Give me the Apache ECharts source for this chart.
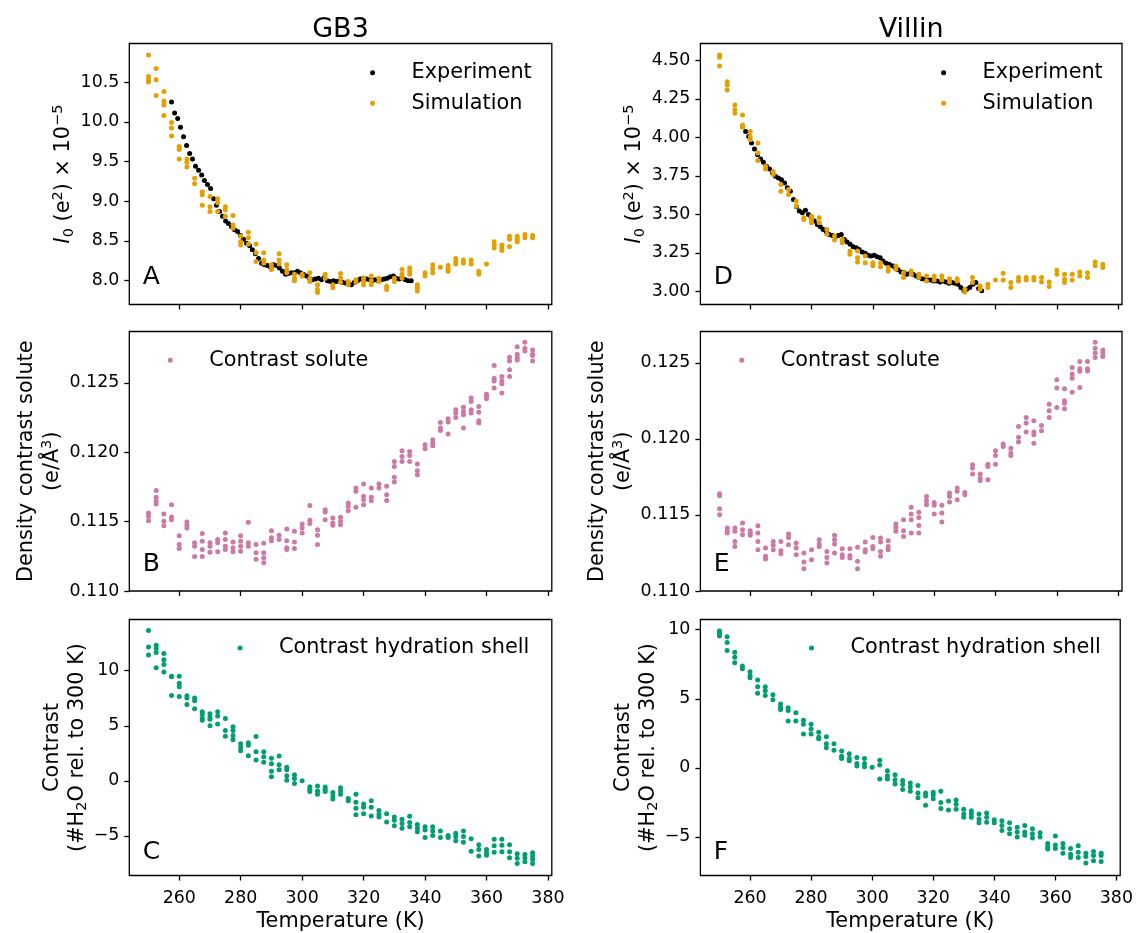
<!DOCTYPE html>
<html><head><meta charset="utf-8">
<script src="https://cdn.jsdelivr.net/npm/echarts@6/dist/echarts.min.js"></script>
<style>html,body{margin:0;padding:0;background:#fff}#c{width:1136px;height:933px}</style>
</head><body><div id="c"></div><script>
// ---------- data ----------
const simT = [250,252.5,255,257.5,260,262.5,265,267.5,270,272.5,275,277.5,280,282.5,285,287.5,290,292.5,295,297.5,300,302.5,305,307.5,310,312.5,315,317.5,320,322.5,325,327.5,330,332.5,335,337.5,340,342.5,345,347.5,350,352.5,355,357.5,360,362.5,365,367.5,370,372.5,375];
const expT = [257.5,258.5,259.5,260.4,261.4,262.4,263.4,264.3,265.3,266.3,267.3,268.2,269.2,270.2,271.2,272.1,273.1,274.1,275.1,276.0,277.0,278.0,279.0,279.9,280.9,281.9,282.9,283.8,284.8,285.8,286.8,287.7,288.7,289.7,290.7,291.6,292.6,293.6,294.6,295.5,296.5,297.5,298.5,299.4,300.4,301.4,302.4,303.3,304.3,305.3,306.3,307.2,308.2,309.2,310.2,311.1,312.1,313.1,314.1,315.0,316.0,317.0,318.0,318.9,319.9,320.9,321.9,322.8,323.8,324.8,325.8,326.7,327.7,328.7,329.7,330.6,331.6,332.6,333.6,334.5,335.5];

const gb3ExpI0 = [10.25,10.11,10.04,9.93,9.81,9.70,9.60,9.53,9.44,9.39,9.33,9.26,9.21,9.16,9.03,8.95,8.87,8.81,8.75,8.72,8.68,8.64,8.62,8.57,8.52,8.47,8.44,8.39,8.34,8.28,8.22,8.20,8.19,8.17,8.20,8.19,8.16,8.12,8.08,8.09,8.10,8.10,8.12,8.10,8.08,8.06,8.03,8.01,8.02,8.03,8.01,8.04,8.00,7.99,8.00,7.99,8.00,7.98,7.97,7.96,7.95,7.98,8.00,8.02,8.03,8.02,8.01,8.00,8.01,8.00,8.01,8.02,8.03,8.05,8.06,8.03,8.02,8.03,8.01,8.00,8.00];
const gb3SimI0 = [[10.84,10.57,10.53,10.50],[10.67,10.53,10.33],[10.38,10.26,10.21,10.08],[9.99,9.92,9.82],[9.69,9.65,9.53],[9.53,9.49,9.43],[9.29,9.22],[9.12,9.08,8.95],[9.06,8.93,8.87],[9.03,8.98,8.87],[8.93,8.89,8.81],[8.82,8.70,8.66],[8.56,8.49,8.45],[8.61,8.54,8.46],[8.46,8.35,8.24],[8.35,8.26,8.22],[8.20,8.16,8.14],[8.34,8.26,8.21],[8.20,8.14,8.10],[8.08,8.03,8.00],[8.08,8.06],[8.10,8.03,7.99],[7.95,7.89,7.85],[8.08,8.03],[7.95,7.91],[8.09,8.03,7.98],[7.99,7.95],[8.01,7.98],[8.03,7.99,7.95],[8.06,8.00,7.95],[8.03,7.99],[7.93,7.89],[8.03,7.99],[8.14,8.08,8.03],[8.16,8.12,8.08],[7.95,7.91,7.87],[8.10,8.06],[8.20,8.15,8.10],[8.17],[8.19,8.15,8.12],[8.28,8.24,8.21],[8.26,8.22],[8.26,8.21],[8.12,8.08],[8.21],[8.49,8.45,8.41],[8.45,8.41,8.38],[8.56,8.52,8.43],[8.56,8.52,8.49],[8.58,8.54],[8.57,8.54]];

const villinExpI0 = [4.071,4.038,4.006,3.963,3.924,3.887,3.859,3.838,3.812,3.794,3.769,3.747,3.736,3.725,3.704,3.672,3.65,3.596,3.549,3.521,3.51,3.527,3.499,3.477,3.456,3.434,3.419,3.402,3.385,3.369,3.363,3.354,3.363,3.369,3.337,3.32,3.305,3.29,3.283,3.272,3.255,3.247,3.234,3.229,3.234,3.225,3.218,3.197,3.182,3.175,3.165,3.154,3.139,3.126,3.121,3.11,3.117,3.11,3.1,3.089,3.082,3.078,3.074,3.074,3.067,3.067,3.061,3.067,3.061,3.052,3.057,3.052,3.046,3.024,3.003,3.013,3.024,3.046,3.057,3.018,3.003];
const villinSimI0 = [[4.535,4.52,4.463],[4.362,4.34,4.308],[4.211,4.18,4.157],[4.146,4.081,4.066],[4.038,4.006,3.984],[3.963,3.898,3.85],[3.812,3.794],[3.779,3.758],[3.693,3.65],[3.661,3.628],[3.585,3.553],[3.477,3.466],[3.488,3.466,3.445],[3.477,3.445],[3.402,3.37],[3.359,3.333],[3.337,3.316],[3.262,3.24],[3.262,3.218,3.19],[3.229,3.186],[3.186,3.165],[3.186,3.16],[3.154,3.132],[3.164,3.143],[3.121,3.089],[3.132,3.11],[3.11,3.089],[3.1,3.067],[3.1,3.074],[3.1,3.074],[3.082,3.061],[3.082,3.067],[3.013,2.996],[3.089,3.057],[3.035,3.013],[3.046,3.024],[3.074],[3.117,3.074],[3.057,3.024],[3.089,3.067],[3.089,3.074],[3.089,3.074],[3.089,3.061],[3.061,3.031],[3.136,3.11],[3.11,3.078,3.057],[3.11,3.074],[3.125,3.1],[3.121,3.089],[3.19,3.165],[3.175,3.154]];

const gb3Solute = [[0.11562,0.11538,0.11507],[0.11725,0.11675,0.11646,0.11627],[0.11555,0.11502,0.11471],[0.11622,0.11534,0.11514],[0.11399,0.11335,0.11306],[0.11498,0.11474,0.11454],[0.11347,0.11323,0.11248],[0.11414,0.11359,0.11299,0.11248],[0.11347,0.11323,0.1128],[0.11371,0.11347,0.11282],[0.11418,0.11371,0.11323,0.11299],[0.11354,0.11311,0.11282],[0.11399,0.11359,0.11323,0.11287],[0.11495,0.11347,0.11323],[0.11335,0.11275,0.11229],[0.11344,0.11275,0.11239,0.11203],[0.11435,0.11383,0.11363],[0.11402,0.11371],[0.11447,0.11363,0.11311,0.11299],[0.1143,0.11354,0.11306],[0.11483,0.11454,0.11418],[0.11617,0.1151,0.11486],[0.11442,0.11402,0.11335],[0.11586,0.1157,0.11514],[0.11526,0.1149,0.11474],[0.11531,0.11502,0.11478],[0.11634,0.1161,0.11579],[0.11742,0.11718,0.11603],[0.11771,0.11682,0.11658,0.11622],[0.11742,0.11675,0.11651],[0.11771,0.11742],[0.11754,0.11694,0.11653],[0.11934,0.11898,0.11819,0.11785],[0.12011,0.1197,0.11934],[0.12006,0.11977,0.11934],[0.11915,0.11867,0.11838],[0.12054,0.12025],[0.1209,0.12066,0.12047],[0.12215,0.12174,0.12157],[0.12241,0.12217,0.12131],[0.12306,0.12282,0.12251],[0.12325,0.12294,0.1227,0.12174],[0.1239,0.12366,0.12306,0.12282],[0.1233,0.12289,0.12227,0.1221],[0.12418,0.12402,0.12385],[0.12625,0.12534,0.12514,0.12462],[0.12546,0.12514,0.12493,0.12426],[0.12685,0.12658,0.12594,0.12546],[0.12761,0.12706,0.12682,0.12665],[0.12793,0.12749,0.1273],[0.12737,0.12706,0.12697,0.12658]];
const villinSolute = [[0.11639,0.11626,0.11541,0.11501],[0.11414,0.11396,0.11381],[0.11414,0.11392,0.11326,0.11293],[0.11447,0.11403,0.1137],[0.11396,0.11381,0.11366],[0.11429,0.11381,0.11326,0.11271],[0.11282,0.11228,0.1121],[0.11326,0.113,0.11271],[0.11326,0.11265,0.11245],[0.11374,0.11352,0.11304],[0.11315,0.11282,0.11239],[0.1125,0.1119,0.11147],[0.11271,0.11206],[0.11337,0.11309,0.11293],[0.1126,0.11221,0.11184],[0.11366,0.11337,0.11309,0.1125],[0.11278,0.11239,0.11221],[0.11278,0.11234,0.11217],[0.11287,0.11195,0.11147],[0.11322,0.11271,0.11256],[0.11352,0.11293,0.11278],[0.11348,0.11322,0.1126,0.11228],[0.1133,0.11293,0.11271],[0.1144,0.11418,0.11392],[0.11469,0.11396,0.11359],[0.1155,0.11506,0.11469,0.11381],[0.11517,0.11484,0.11431,0.11381],[0.11622,0.11593,0.11567],[0.11582,0.11563,0.11506],[0.11563,0.11512,0.11453],[0.11644,0.11622,0.11585],[0.11677,0.11655,0.116],[0.11648,0.11633],[0.1183,0.11808,0.11769],[0.11769,0.11742,0.11727],[0.11834,0.11819,0.11731],[0.11922,0.11891,0.11834],[0.11966,0.1195],[0.11939,0.11907,0.11891],[0.12082,0.1201,0.11979],[0.12141,0.12104,0.12045],[0.12119,0.12045,0.12027,0.11972],[0.12088,0.12053],[0.12228,0.12185,0.12141],[0.12388,0.12334,0.12207],[0.12329,0.1225,0.12235,0.12198],[0.12469,0.12426,0.12399,0.12307],[0.12509,0.12461,0.12444,0.12338],[0.12509,0.12461,0.12447],[0.12636,0.12596,0.12564,0.12535],[0.12585,0.12564,0.12542]];

const gb3Shell = [[13.64,12.16,11.42],[12.31,12.01,11.66,10.27],[11.57,11.0,10.56,9.88],[9.5,9.44,7.75],[9.5,8.85,8.55,7.66],[7.72,7.51,6.92],[7.51,7.28,6.54],[6.27,6.04,5.68,5.5],[6.09,5.8,5.59,5.0],[6.27,5.89,5.15],[5.65,4.56,4.05],[4.91,4.56,4.11,3.73],[3.37,3.02,2.72],[3.46,3.22,2.28],[4.02,2.63,1.89],[2.63,2.19,1.69],[2.04,1.54,0.86,0.36],[2.25,1.45,1.01],[1.24,1.01,0.47,0.06],[0.56,0.21,-0.24],[0.0],[-0.53,-0.77,-0.98],[-0.47,-0.92,-1.21],[-0.56,-0.77,-0.98],[-1.07,-1.36,-1.66],[-0.62,-0.92,-1.21],[-1.6,-1.8],[-1.21,-1.95,-2.49,-3.08],[-2.1,-2.4,-2.99],[-1.8,-2.4,-3.2],[-2.69,-3.05,-3.28],[-2.99,-3.73],[-3.28,-3.58,-4.08],[-3.49,-3.88,-4.32],[-3.22,-3.79,-4.17],[-3.96,-4.32,-4.62],[-4.17,-4.47,-5.15],[-4.17,-4.56,-4.97],[-4.56,-5.15],[-4.97,-5.15],[-4.76,-5.06,-5.44],[-4.56,-5.06,-5.59],[-5.27,-6.39],[-5.8,-6.24,-6.83],[-6.24,-6.54,-6.75],[-5.3,-5.89,-6.48],[-5.3,-5.86,-6.45],[-5.8,-6.45,-6.98],[-6.63,-7.04,-7.51],[-6.69,-6.98,-7.34],[-6.54,-6.83,-7.13,-7.51]];
const villinShell = [[9.91,9.74,9.55],[9.5,9.08,8.49],[8.37,8.01,7.61],[7.37,7.18],[6.95,6.66,6.52],[6.36,5.88,5.41],[5.88,5.58,5.24],[5.29,4.94],[4.63,4.39,4.23],[4.35,4.16,3.4],[3.99,3.4],[3.45,3.16,2.45],[3.16,2.81,2.45],[2.57,2.22,2.1],[2.26,1.74,1.46],[1.74,1.27],[1.22,0.84,0.68],[1.03,0.68,0.51],[0.75,0.32,0.13],[0.68,0.32,0.09],[0.04],[0.56,0.21,-0.81],[-0.2,-0.57,-0.81],[-0.5,-0.86,-1.17],[-0.91,-1.21,-1.57],[-1.1,-1.38,-1.69],[-1.28,-1.81,-2.16],[-1.81,-2.04,-2.7],[-1.76,-1.97,-2.23],[-1.69,-2.51,-2.94],[-2.4,-3.04],[-2.33,-2.63,-2.99],[-2.99,-3.34,-3.58],[-3.11,-3.34,-3.58],[-3.34,-3.7,-3.98],[-3.27,-3.58,-3.93],[-3.75,-3.98],[-3.82,-4.17,-4.53],[-3.98,-4.41,-4.76],[-4.29,-4.65,-5.0],[-4.17,-4.65,-4.88],[-4.41,-4.76,-5.07],[-4.69,-5.0],[-5.47,-5.71,-5.87],[-4.93,-5.59,-5.83],[-5.47,-5.78,-6.18],[-5.83,-6.25,-6.49],[-5.64,-6.11,-6.49],[-6.18,-6.42,-6.89],[-6.06,-6.35,-6.73],[-6.18,-6.35,-6.77]];

const xTicks = [260,280,300,320,340,360,380];
const yTicksI0GB3 = [8.0,8.5,9.0,9.5,10.0,10.5];
const yTicksI0Villin = [3.0,3.25,3.5,3.75,4.0,4.25,4.5];
const yTicksSolute = [0.110,0.115,0.120,0.125];
const yTicksShell = [-5,0,5,10];

// ---------- build ----------
const FONT = 'DejaVu Sans';
const C_EXP = '#000000', C_SIM = '#E69F00', C_SOL = '#CC79A7', C_SHELL = '#009E73';

function pairs(xs, ys){ return xs.map((x,i)=>[x, ys[i]]); }
function flat(ts, groups){ const out=[]; groups.forEach((g,i)=>g.forEach(v=>out.push([ts[i], v]))); return out; }

const colL = {left:129.3, width:422.5};
const colR = {left:700.4, width:421.6};
const rows = [{top:43.5,height:261},{top:331.5,height:259.5},{top:619.5,height:260}];
const grids = [];
[colL, colR].forEach(c => rows.forEach(r => grids.push({left:c.left, top:r.top, width:c.width, height:r.height, show:true, borderColor:'#000', borderWidth:1.3, backgroundColor:'transparent', containLabel:false})));
// grid order: 0 A,1 B,2 C,3 D,4 E,5 F

const tickStyle = {show:true, inside:false, length:5, lineStyle:{color:'#000', width:1.3}};
const labelBase = {color:'#000', fontSize:17.4, fontFamily:FONT};
const nameBase = {color:'#000', fontSize:20.8, fontFamily:FONT};

function xAxisFor(g, bottom){
  return {gridIndex:g, type:'value', position:'bottom', min:243.75, max:381.25,
    axisLine:{show:false, onZero:false}, splitLine:{show:false},
    axisTick:Object.assign({customValues:xTicks}, tickStyle),
    axisLabel:Object.assign({show:bottom, customValues:xTicks, margin:14}, labelBase),
    name: bottom ? 'Temperature (K)' : '', nameLocation:'middle', nameGap:35.5, nameMoveOverlap:false,
    nameTextStyle:Object.assign({}, nameBase)};
}
const richBase = {
  it:{fontStyle:'italic', fontSize:20.8, fontFamily:FONT, color:'#000'},
  sup:{fontSize:14.6, lineHeight:14, verticalAlign:'top', fontFamily:FONT, color:'#000'},
  sub:{fontSize:14.6, lineHeight:14, verticalAlign:'bottom', fontFamily:FONT, color:'#000'}
};
function yAxisFor(g, min, max, ticks, fmt, name, gap, lh){
  const nts = Object.assign({lineHeight:lh, align:'center', rich:richBase}, nameBase);
  return {gridIndex:g, type:'value', position:'left', min:min, max:max,
    axisLine:{show:false, onZero:false}, splitLine:{show:false},
    axisTick:Object.assign({customValues:ticks}, tickStyle),
    axisLabel:Object.assign({customValues:ticks, margin:10, formatter:fmt}, labelBase),
    name:name, nameLocation:'middle', nameRotate:90, nameGap:gap, nameTextStyle:nts};
}
const f1 = v => v.toFixed(1), f2 = v => v.toFixed(2), f3 = v => v.toFixed(3);
const fi = v => String(Math.round(v)).replace('-', '\u2212');
const i0Name = '{it|I}{sub|0} (e{sup|2}) \u00D7 10{sup|\u22125}';
const solName = 'Density contrast solute\n(e/\u00C5{sup|3})';
const shellName = 'Contrast\n(#H{sub|2}O rel. to 300 K)';

const xAxes = [xAxisFor(0,false), xAxisFor(1,false), xAxisFor(2,true), xAxisFor(3,false), xAxisFor(4,false), xAxisFor(5,true)];
const yAxes = [
  yAxisFor(0, 7.70, 10.985, yTicksI0GB3, f1, i0Name, 53, 26),
  yAxisFor(1, 0.110, 0.1287, yTicksSolute, f3, solName, 61, 26),
  yAxisFor(2, -8.6, 14.65, yTicksShell, fi, shellName, 38, 25),
  yAxisFor(3, 2.914, 4.61, yTicksI0Villin, f2, i0Name, 53, 26),
  yAxisFor(4, 0.110, 0.12706, yTicksSolute, f3, solName, 61, 26),
  yAxisFor(5, -7.79, 10.74, yTicksShell, fi, shellName, 38, 25)
];

function sc(name, idx, data, color){
  return {type:'scatter', name:name, xAxisIndex:idx, yAxisIndex:idx, data:data, symbol:'circle', symbolSize:5,
    itemStyle:{color:color, opacity:1}, emphasis:{disabled:true}, silent:true};
}
const series = [
  sc('Experiment', 0, pairs(expT, gb3ExpI0), C_EXP),
  sc('Simulation', 0, flat(simT, gb3SimI0), C_SIM),
  sc('Contrast solute', 1, flat(simT, gb3Solute), C_SOL),
  sc('Contrast hydration shell', 2, flat(simT, gb3Shell), C_SHELL),
  sc('Experiment', 3, pairs(expT, villinExpI0), C_EXP),
  sc('Simulation', 3, flat(simT, villinSimI0), C_SIM),
  sc('Contrast solute', 4, flat(simT, villinSolute), C_SOL),
  sc('Contrast hydration shell', 5, flat(simT, villinShell), C_SHELL)
];

function leg(names, markerX, centerY){
  return {data:names, orient:'vertical', left:markerX-2.5, top:centerY-11, padding:0,
    itemWidth:68, itemHeight:5, itemGap:8.6, icon:'circle', selectedMode:false,
    textStyle:{color:'#000', fontSize:20.8, fontFamily:FONT, lineHeight:22}};
}
const legends = [
  leg(['Experiment','Simulation'], 372.6, 72.7),
  leg(['Contrast solute'], 170.3, 360.2),
  leg(['Contrast hydration shell'], 240, 648),
  leg(['Experiment','Simulation'], 943.6, 72.7),
  leg(['Contrast solute'], 741.8, 360.2),
  leg(['Contrast hydration shell'], 811.5, 648)
];

function letter(t, x, y){
  return {type:'text', x:x, y:y, silent:true, style:{text:t, fill:'#000', fontSize:25, fontFamily:FONT, align:'left', verticalAlign:'middle'}};
}

const chart = echarts.init(document.getElementById('c'), null, {renderer:'canvas'});
chart.setOption({
  animation:false,
  backgroundColor:'#fff',
  textStyle:{fontFamily:FONT},
  title:[
    {text:'GB3', left:340.5, top:16, textAlign:'center', padding:0, textStyle:{color:'#000', fontSize:27, fontWeight:'normal', fontFamily:FONT}},
    {text:'Villin', left:911.2, top:16, textAlign:'center', padding:0, textStyle:{color:'#000', fontSize:27, fontWeight:'normal', fontFamily:FONT}}
  ],
  grid:grids,
  xAxis:xAxes,
  yAxis:yAxes,
  legend:legends,
  series:series,
  graphic:[
    letter('A', 142.8, 277), letter('B', 142.8, 564.5), letter('C', 142.8, 852.5),
    letter('D', 713.8, 277), letter('E', 713.8, 564.5), letter('F', 713.8, 852.5)
  ]
});
</script></body></html>
